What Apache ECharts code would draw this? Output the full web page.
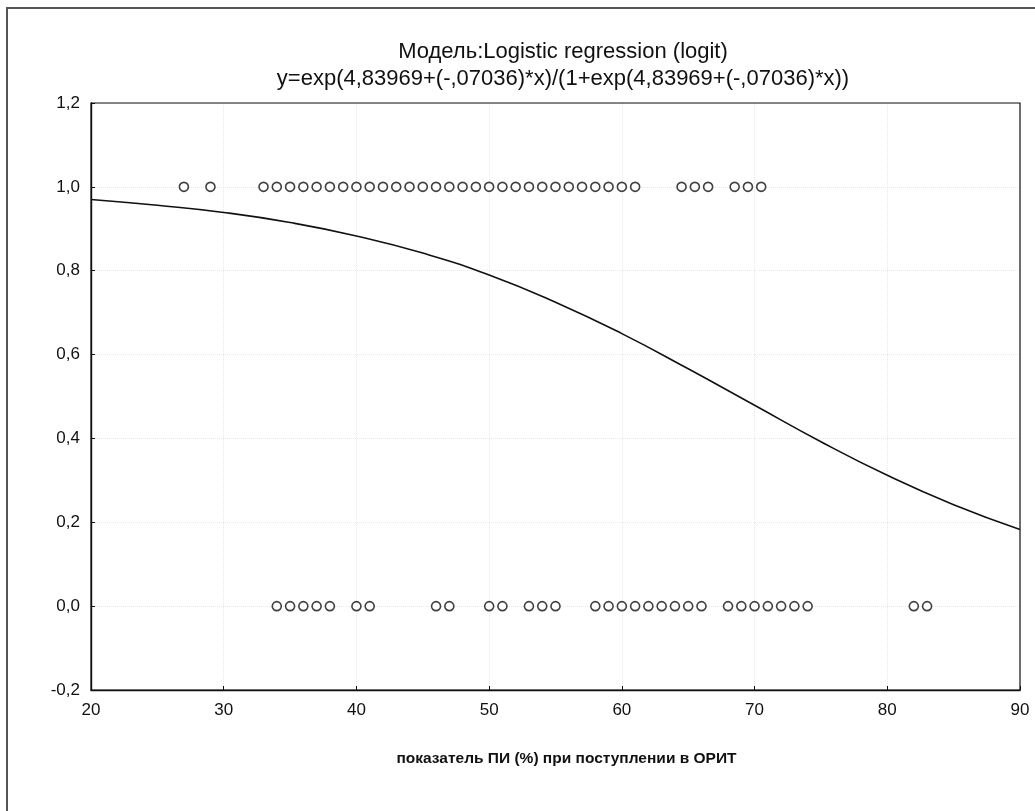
<!DOCTYPE html>
<html>
<head>
<meta charset="utf-8">
<script src="https://cdn.jsdelivr.net/npm/echarts@6/dist/echarts.min.js"></script>
<style>html,body{margin:0;padding:0;background:#fff;}#c{width:1035px;height:811px;}</style>
</head>
<body>
<div id="c"></div>
<script>
// Observed outcome = 1 (x values)
const survivedX = [27, 29, 33, 34, 35, 36, 37, 38, 39, 40, 41, 42, 43, 44, 45, 46, 47, 48, 49, 50, 51, 52, 53, 54, 55, 56, 57, 58, 59, 60, 61, 64.5, 65.5, 66.5, 68.5, 69.5, 70.5];
// Observed outcome = 0 (x values)
const diedX = [34, 35, 36, 37, 38, 40, 41, 46, 47, 50, 51, 53, 54, 55, 58, 59, 60, 61, 62, 63, 64, 65, 66, 68, 69, 70, 71, 72, 73, 74, 82, 83];
// Fitted curve
const curveX = [20, 25, 30, 35, 40, 45, 50, 55, 60, 65, 70, 75, 80, 85, 90];
const curveY = [0.97, 0.956, 0.939, 0.915, 0.883, 0.842, 0.79, 0.725, 0.65, 0.566, 0.479, 0.392, 0.312, 0.242, 0.183];

const titleText = 'Модель:Logistic regression (logit)';
const subText = 'y=exp(4,83969+(-,07036)*x)/(1+exp(4,83969+(-,07036)*x))';
const xTitle = 'показатель ПИ (%) при поступлении в ОРИТ';

const chart = echarts.init(document.getElementById('c'));
const font = 'Liberation Sans, Arial, sans-serif';
const circle = {
  type: 'scatter', symbol: 'circle', symbolSize: 9,
  itemStyle: { color: '#fff', borderColor: '#111', borderWidth: 1.6 },
  z: 3
};
chart.setOption({
  animation: false,
  backgroundColor: '#fff',
  textStyle: { fontFamily: font },
  title: [
    { text: titleText, left: 558, top: 36, textAlign: 'center',
      textStyle: { fontSize: 22, fontWeight: 'normal', color: '#111', fontFamily: font } },
    { text: subText, left: 558, top: 63, textAlign: 'center',
      textStyle: { fontSize: 22, fontWeight: 'normal', color: '#111', fontFamily: font } }
  ],
  graphic: [
    { type: 'polyline', shape: { points: [[7, 811], [7, 8], [1035, 8]] },
      style: { stroke: '#555', lineWidth: 2, fill: null } }
  ],
  grid: { left: 91, right: 15, top: 103, bottom: 121, show: true, borderColor: '#111', borderWidth: 1.2, z: 5 },
  xAxis: {
    type: 'value', min: 20, max: 90, interval: 10,
    name: xTitle, nameLocation: 'middle', nameGap: 61,
    nameTextStyle: { fontSize: 15.5, fontWeight: 'bold', color: '#111', fontFamily: font, padding: [0, 0, 0, 22] },
    axisLine: { show: true, onZero: false, lineStyle: { color: '#111', width: 1.4 } },
    axisTick: { show: true, inside: true, length: 4, lineStyle: { color: '#111' } },
    axisLabel: { fontSize: 17, color: '#111', margin: 12, fontFamily: font },
    splitLine: { show: true, lineStyle: { color: '#e8e8e8', type: 'dotted', width: 1 } }
  },
  yAxis: {
    type: 'value', min: -0.2, max: 1.2, interval: 0.2,
    axisLine: { show: true, lineStyle: { color: '#111', width: 1.4 } },
    axisTick: { show: true, inside: true, length: 4, lineStyle: { color: '#111' } },
    axisLabel: { fontSize: 17, color: '#111', margin: 11, fontFamily: font,
      formatter: v => (Math.round(v * 10) / 10).toFixed(1).replace('.', ',') },
    splitLine: { show: true, lineStyle: { color: '#e8e8e8', type: 'dotted', width: 1 } }
  },
  series: [
    Object.assign({ data: survivedX.map(x => [x, 1]) }, circle),
    Object.assign({ data: diedX.map(x => [x, 0]) }, circle),
    { type: 'line', data: curveX.map((x, i) => [x, curveY[i]]), smooth: true, showSymbol: false,
      lineStyle: { color: '#111', width: 1.6 }, z: 2 }
  ]
});
</script>
</body>
</html>
